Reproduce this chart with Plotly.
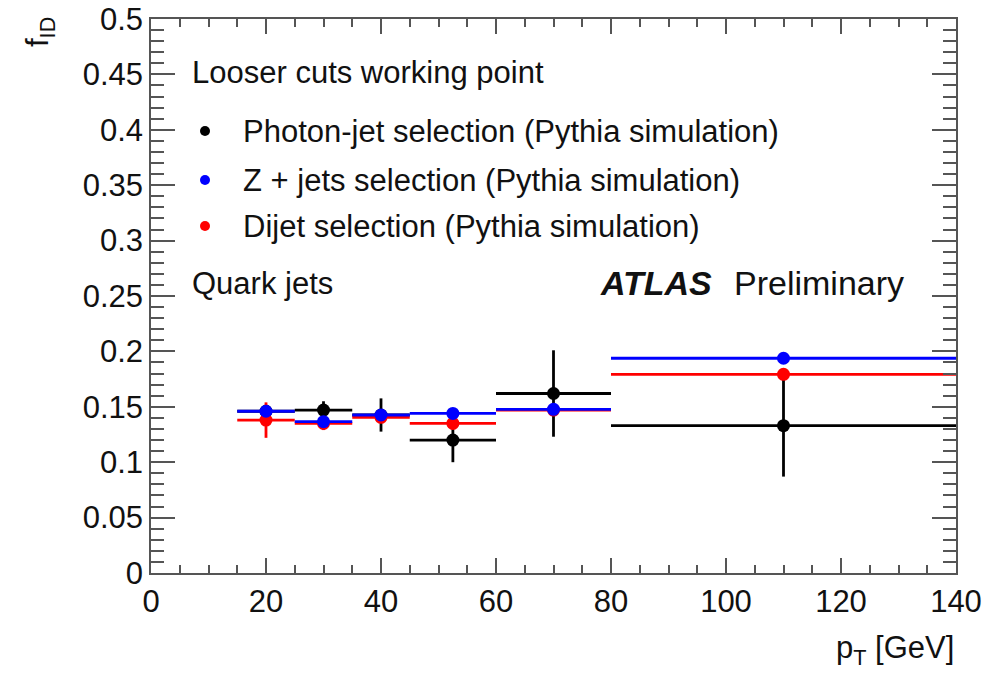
import plotly.graph_objects as go

# ---- data ----
pt_centers = [20, 30, 40, 52.5, 70, 110]
pt_halfwidths = [5, 5, 5, 7.5, 10, 30]

photon_jet = [0.146, 0.147, 0.1426, 0.120, 0.162, 0.133]
photon_jet_err = [0.006, 0.008, 0.015, 0.020, 0.039, 0.046]

z_jets = [0.146, 0.1366, 0.1426, 0.144, 0.1477, 0.1938]
z_jets_err = [0.002, 0.002, 0.002, 0.002, 0.002, 0.002]

dijet = [0.138, 0.135, 0.1405, 0.135, 0.147, 0.1793]
dijet_err = [0.016, 0.006, 0.005, 0.004, 0.004, 0.003]

series_names = [
    "Photon-jet selection (Pythia simulation)",
    "Z + jets selection (Pythia simulation)",
    "Dijet selection (Pythia simulation)",
]
series_colors = ["#000000", "#0000ff", "#ff0000"]

# ---- layout geometry ----
W, H = 1003, 674
L, R, T, B = 151, 47, 19, 101
PW, PH = W - L - R, H - T - B
FONT = "Liberation Sans, Arial, Helvetica, sans-serif"
FS = 31


def px(x):
    return (x - L) / PW


def py(y):
    return (H - B - y) / PH


fig = go.Figure()

draw_order = [(photon_jet, photon_jet_err, 0), (dijet, dijet_err, 2), (z_jets, z_jets_err, 1)]
for vals, errs, idx in draw_order:
    c = series_colors[idx]
    fig.add_trace(go.Scatter(
        x=pt_centers, y=vals, mode="markers", name=series_names[idx],
        marker=dict(color=c, size=13),
        error_x=dict(type="data", array=pt_halfwidths, symmetric=True, color=c, thickness=2.8, width=0),
        error_y=dict(type="data", array=errs, symmetric=True, color=c, thickness=2.8, width=0),
        showlegend=False,
    ))

axis_common = dict(
    showgrid=False, zeroline=False, showline=True, linecolor="#555", linewidth=1.5,
    mirror="allticks", ticks="inside", tickcolor="#555", tickwidth=1.5,
    tickfont=dict(family=FONT, size=FS, color="#111"), automargin=False,
)

fig.update_xaxes(range=[0, 140], dtick=20, ticklen=15,
                 minor=dict(dtick=5, ticks="inside", ticklen=8, tickcolor="#555", tickwidth=1.5),
                 **axis_common)
fig.update_yaxes(range=[0, 0.5], dtick=0.05, ticklen=24,
                 minor=dict(dtick=0.01, ticks="inside", ticklen=13, tickcolor="#555", tickwidth=1.5),
                 **axis_common)

annotations = []


def add_text(text, x, y, xanchor="left", yanchor="middle", size=FS, angle=0):
    annotations.append(dict(
        text=text, x=px(x), y=py(y), xref="paper", yref="paper",
        xanchor=xanchor, yanchor=yanchor, showarrow=False, textangle=angle,
        font=dict(family=FONT, size=size, color="#111"),
    ))


add_text("Looser cuts working point", 190, 72)
legend_y = [131, 180, 226]
shapes = []
for name, c, ly in zip(series_names, series_colors, legend_y):
    add_text(name, 241, ly)
    r = 5
    shapes.append(dict(type="circle", xref="paper", yref="paper",
                       x0=px(205 - r), x1=px(205 + r), y0=py(ly + r), y1=py(ly - r),
                       fillcolor=c, line=dict(color=c, width=0)))
add_text("Quark jets", 190, 283)
add_text("<b><i>ATLAS</i></b>", 598, 283, size=34)
add_text("Preliminary", 732, 283, size=34)
add_text("p<sub>T</sub> [GeV]", 956, 650, xanchor="right")
add_text("f<sub>ID</sub>", 40, 32, xanchor="center", yanchor="middle", angle=-90)

fig.update_layout(
    width=W, height=H,
    margin=dict(l=L, r=R, t=T, b=B, pad=0, autoexpand=False),
    paper_bgcolor="white", plot_bgcolor="white",
    annotations=annotations, shapes=shapes,
    font=dict(family=FONT, size=FS, color="#111"),
)

fig.write_html("out.html")
